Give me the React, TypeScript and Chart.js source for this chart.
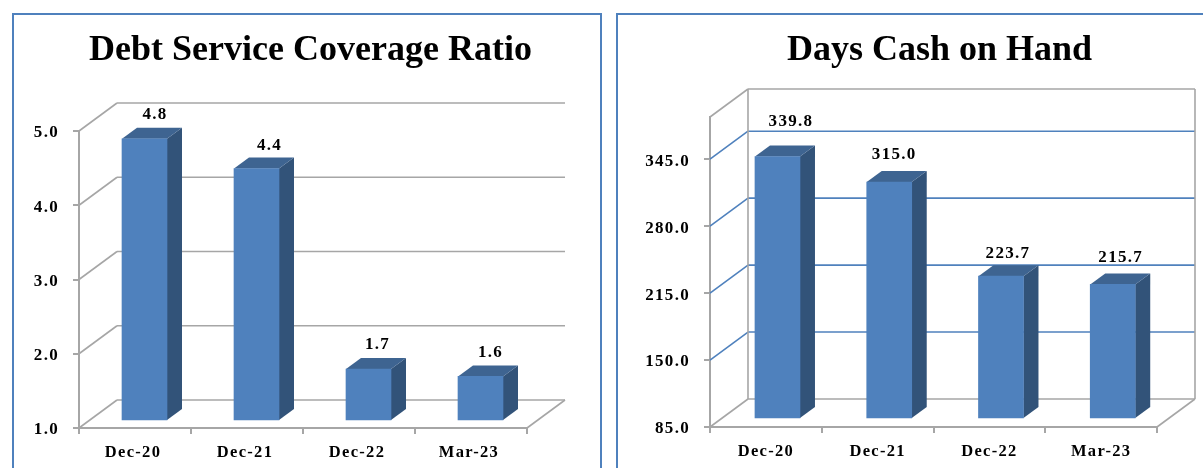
import React, { useEffect, useRef } from "react";
import { Chart, registerables } from "chart.js";

Chart.register(...registerables);

const categories = ["Dec-20", "Dec-21", "Dec-22", "Mar-23"];
const coverageValues = [4.8, 4.4, 1.7, 1.6];
const cashValues = [339.8, 315.0, 223.7, 215.7];
const coverageTicks = [1, 2, 3, 4, 5];
const cashTicks = [85, 150, 215, 280, 345];
const coverageRange = { min: 1, max: 5 };
const cashRange = { min: 85, max: 386 };

const SERIF = '"Liberation Serif", serif';
const GRAY = "#a6a6a6";
const BLUE = "#4f81bd";
const SIDE = "#325379";
const TOP = "#3e6491";

type Cfg = {
  title: string;
  values: number[];
  ticks: number[];
  range: { min: number; max: number };
  panel: { left: number; top: number; width: number; height: number };
  canvasW: number;
  area: { left: number; right: number; top: number; bottom: number };
  gridColor: string;
  walls: boolean;
  shift: { x: number; y: number };
  xLabelOffset: number;
  labelDx: number[];
  labelDy: number[];
};

const DEPTH = { x: 38, y: 28 };
const BAR_DEPTH = { x: 15, y: 11 };
const CANVAS_H = 453;

const scene = (cfg: Cfg) => ({
  id: "scene3d",
  beforeDatasetsDraw(chart: any) {
    const { ctx, chartArea: a, scales } = chart;
    const y = scales.y;
    const line = (x1: number, y1: number, x2: number, y2: number, c: string) => {
      ctx.strokeStyle = c;
      ctx.lineWidth = 1.6;
      ctx.beginPath();
      ctx.moveTo(x1, y1);
      ctx.lineTo(x2, y2);
      ctx.stroke();
    };
    ctx.save();
    for (const t of y.ticks) {
      const py = y.getPixelForValue(t.value);
      const c = t.value === cfg.range.min ? GRAY : cfg.gridColor;
      line(a.left, py, a.left + DEPTH.x, py - DEPTH.y, c);
      line(a.left + DEPTH.x, py - DEPTH.y, a.right + DEPTH.x, py - DEPTH.y, c);
    }
    line(a.right, a.bottom, a.right + DEPTH.x, a.bottom - DEPTH.y, GRAY);
    if (cfg.walls) {
      line(a.left, a.top, a.left + DEPTH.x, a.top - DEPTH.y, GRAY);
      line(a.left + DEPTH.x, a.top - DEPTH.y, a.right + DEPTH.x, a.top - DEPTH.y, GRAY);
      line(a.left + DEPTH.x, a.top - DEPTH.y, a.left + DEPTH.x, a.bottom - DEPTH.y, GRAY);
      line(a.right + DEPTH.x, a.top - DEPTH.y, a.right + DEPTH.x, a.bottom - DEPTH.y, GRAY);
    }
    ctx.restore();

    ctx.save();
    ctx.translate(cfg.shift.x, -cfg.shift.y);
    for (const bar of chart.getDatasetMeta(0).data) {
      const { x, y: top, base, width } = bar.getProps(["x", "y", "base", "width"], true);
      const r = x + width / 2;
      const l = x - width / 2;
      ctx.fillStyle = SIDE;
      ctx.beginPath();
      ctx.moveTo(r, top);
      ctx.lineTo(r + BAR_DEPTH.x, top - BAR_DEPTH.y);
      ctx.lineTo(r + BAR_DEPTH.x, base - BAR_DEPTH.y);
      ctx.lineTo(r, base);
      ctx.closePath();
      ctx.fill();
      ctx.fillStyle = TOP;
      ctx.beginPath();
      ctx.moveTo(l, top);
      ctx.lineTo(l + BAR_DEPTH.x, top - BAR_DEPTH.y);
      ctx.lineTo(r + BAR_DEPTH.x, top - BAR_DEPTH.y);
      ctx.lineTo(r, top);
      ctx.closePath();
      ctx.fill();
    }
  },
  afterDatasetsDraw(chart: any) {
    const { ctx } = chart;
    ctx.restore();
    ctx.letterSpacing = "1.3px";
    ctx.save();
    ctx.fillStyle = "#000";
    ctx.font = `bold 17px ${SERIF}`;
    ctx.textAlign = "center";
    ctx.textBaseline = "middle";
    chart.getDatasetMeta(0).data.forEach((bar: any, i: number) => {
      const { x, y } = bar.getProps(["x", "y"], true);
      ctx.fillText(
        cfg.values[i].toFixed(1),
        x + cfg.shift.x + cfg.labelDx[i],
        y - cfg.shift.y + cfg.labelDy[i],
      );
    });
    ctx.restore();
  },
  afterDraw(chart: any) {
    chart.ctx.letterSpacing = "0px";
  },
});

const coverageCfg: Cfg = {
  title: "Debt Service Coverage Ratio",
  values: coverageValues,
  ticks: coverageTicks,
  range: coverageRange,
  panel: { left: 12, top: 13, width: 590, height: 470 },
  canvasW: 593,
  area: { left: 65, right: 513, top: 116, bottom: 413 },
  gridColor: GRAY,
  walls: false,
  shift: { x: 9.5, y: 7 },
  xLabelOffset: -2,
  labelDx: [10.5, 13, 9, 10],
  labelDy: [-24, -23, -24, -24],
};

const cashCfg: Cfg = {
  title: "Days Cash on Hand",
  values: cashValues,
  ticks: cashTicks,
  range: cashRange,
  panel: { left: 616, top: 13, width: 640, height: 470 },
  canvasW: 643,
  area: { left: 92, right: 539, top: 102, bottom: 412 },
  gridColor: BLUE,
  walls: true,
  shift: { x: 11.6, y: 8 },
  xLabelOffset: 0,
  labelDx: [13.5, 5, 7, 8],
  labelDy: [-35, -28, -23, -27],
};

function Panel({ cfg }: { cfg: Cfg }) {
  const ref = useRef<HTMLCanvasElement>(null);
  useEffect(() => {
    const chart = new Chart(ref.current as HTMLCanvasElement, {
      type: "bar",
      data: {
        labels: categories,
        datasets: [
          {
            data: cfg.values,
            base: cfg.range.min,
            backgroundColor: BLUE,
            barThickness: 45,
            clip: false,
          } as any,
        ],
      },
      plugins: [scene(cfg)],
      options: {
        responsive: false,
        animation: false,
        devicePixelRatio: 1,
        layout: { autoPadding: false, padding: 0 },
        plugins: {
          legend: { display: false },
          tooltip: { enabled: false },
          title: {
            display: true,
            text: cfg.title,
            color: "#000",
            font: { family: SERIF, size: 36, weight: "bold", lineHeight: 1.2 },
            padding: { top: 14, bottom: cfg.area.top - 14 - 43.2 },
          },
        },
        scales: {
          x: {
            afterFit: (s: any) => {
              s.height = CANVAS_H - cfg.area.bottom;
            },
            grid: {
              drawOnChartArea: false,
              color: GRAY,
              lineWidth: 2,
              tickLength: 6,
              offset: true,
            },
            border: { color: GRAY, width: 2 },
            ticks: {
              z: 1,
              color: "#000",
              padding: 9,
              labelOffset: cfg.xLabelOffset,
              maxRotation: 0,
              autoSkip: false,
              font: { family: SERIF, size: 16.5, weight: "bold" },
            },
          },
          y: {
            min: cfg.range.min,
            max: cfg.range.max,
            afterFit: (s: any) => {
              s.width = cfg.area.left;
            },
            afterBuildTicks: (s: any) => {
              s.ticks = cfg.ticks.map((value) => ({ value }));
            },
            grid: { drawOnChartArea: false, color: GRAY, lineWidth: 2, tickLength: 6 },
            border: { color: GRAY, width: 2 },
            ticks: {
              z: 1,
              color: "#000",
              padding: 14,
              labelOffset: 2,
              font: { family: SERIF, size: 17, weight: "bold" },
              callback: (v: any) => Number(v).toFixed(1),
            },
          },
          spacer: {
            type: "linear",
            position: "right",
            afterFit: (s: any) => {
              s.width = cfg.canvasW - cfg.area.right;
            },
            grid: { display: false },
            border: { display: false },
            ticks: { display: false },
          },
        },
      } as any,
    });
    return () => chart.destroy();
  }, [cfg]);
  return (
    <div
      style={{
        position: "absolute",
        left: cfg.panel.left,
        top: cfg.panel.top,
        width: cfg.panel.width,
        height: cfg.panel.height,
        boxSizing: "border-box",
        border: `2px solid ${BLUE}`,
      }}
    >
      <canvas
        ref={ref}
        width={cfg.canvasW}
        height={CANVAS_H}
        style={{ position: "absolute", left: 0, top: 0 }}
      />
    </div>
  );
}

export default function App() {
  return (
    <div
      style={{
        position: "fixed",
        left: 0,
        top: 0,
        width: 1203,
        height: 468,
        overflow: "hidden",
        background: "#fff",
      }}
    >
      <Panel cfg={coverageCfg} />
      <Panel cfg={cashCfg} />
    </div>
  );
}
